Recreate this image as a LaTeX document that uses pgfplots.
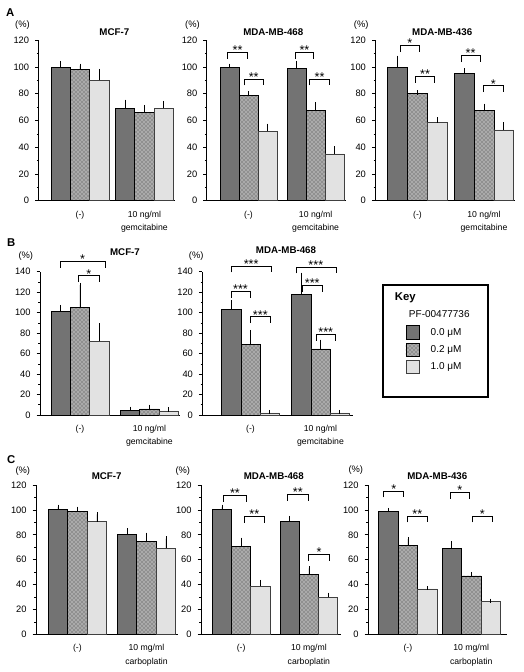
\documentclass[border=0pt]{standalone}
\usepackage{fontspec}
\setmainfont{Liberation Sans}
\usepackage{pgfplots}
\pgfplotsset{compat=1.18}
\usetikzlibrary{patterns}
\definecolor{cA}{RGB}{115,115,115}
\definecolor{cB}{RGB}{170,170,170}
\definecolor{cBp}{RGB}{60,60,60}
\definecolor{cC}{RGB}{226,226,226}

\pgfplotsset{
  panel/.style={
    scale only axis, anchor=south west,
    axis x line*=bottom, axis y line*=left,
    axis line style={-, line width=0.6pt, black},
    ymin=0, ytick distance=20,
    tick align=outside, major tick length=2.5pt, minor tick length=1.3pt,
    minor y tick num=1,
    xtick style={draw=none},
    ytick style={line width=0.5pt, black},
    minor y tick style={line width=0.4pt, black},
    yticklabel style={font=\fontsize{7}{8}\selectfont, xshift=-1pt},
    xticklabel style={font=\fontsize{6.5}{10}\selectfont, align=center, anchor=north, yshift=-1.5pt},
    /pgf/number format/assume math mode=true,
    clip=false, enlargelimits=false,
  },
  bb/.style={ybar, bar width=1, bar shift=0pt, line width=0.5pt,
    error bars/y dir=plus, error bars/y explicit,
    error bars/error bar style={line width=0.5pt, black},
    error bars/error mark options={black, mark size=1.6pt, line width=0.5pt},
    legend image code/.code={\draw[##1, line width=0.5pt] (0pt,-4.9pt) rectangle (9.8pt,4.9pt);}},
  s0/.style={bb, fill=cA, draw=black},
  s2/.style={bb, fill=cB, draw=black, postaction={pattern=crosshatch dots, pattern color=cBp}},
  s1/.style={bb, fill=cC, draw=black!75},
}
\newcommand{\brk}[4]{%
  \draw[line width=0.5pt] ([yshift=-4.8pt]axis cs:#1,#3) -- (axis cs:#1,#3) -- node[pos=0.5, anchor=base, inner sep=0pt, yshift=-1.7pt, font=\fontsize{9.5}{9.5}\selectfont] {#4} (axis cs:#2,#3) -- ([yshift=-4.8pt]axis cs:#2,#3);}

\begin{document}
\begin{tikzpicture}
\path[use as bounding box] (0,0) rectangle (393pt,504pt);

% ---------------- Panel A ----------------
\begin{axis}[panel, at={(28.875pt,353.475pt)}, width=102.75pt, height=120.3pt,
  xmin=0, xmax=7.1, ymax=120, xtick={2.15,5.49},
  xticklabels={(-),{10 ng/ml\\gemcitabine}}]
\addplot[s0] coordinates {(1.15,100) +- (0,3) (4.49,69) +- (0,5)};
\addplot[s2] coordinates {(2.15,98) +- (0,3) (5.49,66) +- (0,4)};
\addplot[s1] coordinates {(3.15,90) +- (0,7) (6.49,69) +- (0,4)};
\end{axis}

\begin{axis}[panel, at={(155.025pt,353.475pt)}, width=104.625pt, height=120.3pt,
  xmin=-0.05, xmax=7.29, ymax=120, xtick={2.15,5.68},
  xticklabels={(-),{10 ng/ml\\gemcitabine}}]
\addplot[s0] coordinates {(1.15,99.5) +- (0,1.5) (4.68,99) +- (0,4)};
\addplot[s2] coordinates {(2.15,78.7) +- (0,1.5) (5.68,67.5) +- (0,4.5)};
\addplot[s1] coordinates {(3.15,52) +- (0,4) (6.68,35) +- (0,4)};
\brk{1.06}{2.09}{111}{**}
\brk{1.91}{2.94}{91}{**}
\brk{4.61}{5.58}{111}{**}
\brk{5.37}{6.40}{91}{**}
\end{axis}

\begin{axis}[panel, at={(281.475pt,353.475pt)}, width=104.55pt, height=120.3pt,
  xmin=0.02, xmax=7.06, ymax=120, xtick={2.15,5.51},
  xticklabels={(-),{10 ng/ml\\gemcitabine}}]
\addplot[s0] coordinates {(1.15,100) +- (0,7) (4.51,95) +- (0,2.5)};
\addplot[s2] coordinates {(2.15,80) +- (0,1) (5.51,67.5) +- (0,3.5)};
\addplot[s1] coordinates {(3.15,58.5) +- (0,2.5) (6.51,53) +- (0,4)};
\brk{1.28}{2.26}{116}{*}
\brk{2.04}{3.02}{93}{**}
\brk{4.35}{5.32}{108.5}{**}
\brk{5.49}{6.47}{86}{*}
\end{axis}

% ---------------- Panel B ----------------
\begin{axis}[panel, at={(30pt,192.75pt)}, width=105.225pt, height=107.475pt,
  xmin=0.08, xmax=7.35, ymax=140, xtick={2.15,5.75},
  xticklabels={(-),{10 ng/ml\\gemcitabine}}]
\addplot[s0] coordinates {(1.15,101) +- (0,4.5) (4.75,4.5) +- (0,1.5)};
\addplot[s2] coordinates {(2.15,105) +- (0,22) (5.75,6) +- (0,2)};
\addplot[s1] coordinates {(3.15,72) +- (0,15.5) (6.75,4) +- (0,1.5)};
\brk{1.12}{3.45}{150}{*}
\brk{2.06}{3.15}{136}{*}
\end{axis}

\begin{axis}[panel, at={(151.725pt,192.75pt)}, width=113.25pt, height=107.475pt,
  xmin=-0.35, xmax=7.48, ymax=140, xtick={2.15,5.78},
  xticklabels={(-),{10 ng/ml\\gemcitabine}},
  legend style={at={(1.19,0.914)}, anchor=north west, draw=black, line width=1.5pt,
    inner xsep=17pt, inner ysep=4pt, row sep=2pt, column sep=6.5pt,
    font=\fontsize{7.5}{9}\selectfont,
    nodes={text height=5.5pt, text depth=1.5pt, inner sep=2pt}},
  legend cell align=left]
\addlegendimage{empty legend}
\addlegendentry{\hspace*{-35.2pt}\textbf{\fontsize{8.5}{9}\selectfont Key}}
\addlegendimage{empty legend}
\addlegendentry{\hspace*{-16.3pt}PF-00477736\hspace*{-5pt}}
\addplot[s0] coordinates {(1.15,103) +- (0,7) (4.78,118) +- (0,19)};
\addlegendentry{0.0 μM}
\addplot[s2] coordinates {(2.15,69) +- (0,12) (5.78,64.5) +- (0,7)};
\addlegendentry{0.2 μM}
\addplot[s1] coordinates {(3.15,2) +- (0,1) (6.78,2) +- (0,1)};
\addlegendentry{1.0 μM}
\addlegendimage{empty legend}
\addlegendentry{\phantom{X}}
\brk{1.14}{3.23}{145.5}{***}
\brk{1.14}{2.12}{121}{***}
\brk{2.16}{3.16}{96}{***}
\brk{4.50}{6.58}{144.5}{***}
\brk{4.85}{5.85}{126.5}{***}
\brk{5.56}{6.54}{79}{***}
\end{axis}

% ---------------- Panel C ----------------
\begin{axis}[panel, at={(27pt,28.2pt)}, width=106.2pt, height=112.05pt,
  xmin=0.02, xmax=7.3, ymax=120, xtick={2.15,5.7},
  xticklabels={(-),{10 mg/ml\\carboplatin}}]
\addplot[s0] coordinates {(1.15,100.5) +- (0,2) (4.7,80.5) +- (0,3)};
\addplot[s2] coordinates {(2.15,98.5) +- (0,2.5) (5.7,75) +- (0,5)};
\addplot[s1] coordinates {(3.15,90.5) +- (0,6) (6.7,69) +- (0,8)};
\end{axis}

\begin{axis}[panel, at={(150.75pt,28.2pt)}, width=105.375pt, height=112.05pt,
  xmin=0.06, xmax=7.38, ymax=120, xtick={2.15,5.68},
  xticklabels={(-),{10 mg/ml\\carboplatin}}]
\addplot[s0] coordinates {(1.15,100.5) +- (0,2) (4.68,90.5) +- (0,3)};
\addplot[s2] coordinates {(2.15,71) +- (0,5) (5.68,48) +- (0,5)};
\addplot[s1] coordinates {(3.15,38.5) +- (0,3.5) (6.68,29.8) +- (0,2)};
\brk{1.22}{2.44}{111.7}{**}
\brk{2.30}{3.38}{95}{**}
\brk{4.58}{5.63}{112.5}{**}
\brk{5.67}{6.76}{64}{*}
\end{axis}

\begin{axis}[panel, at={(276pt,28.2pt)}, width=104.25pt, height=112.05pt,
  xmin=0.1, xmax=7.25, ymax=120, xtick={2.15,5.41},
  xticklabels={(-),{10 mg/ml\\carboplatin}}]
\addplot[s0] coordinates {(1.15,99) +- (0,1) (4.41,69) +- (0,4)};
\addplot[s2] coordinates {(2.15,71.5) +- (0,5) (5.41,47) +- (0,1.5)};
\addplot[s1] coordinates {(3.15,36.5) +- (0,0.5) (6.41,26.5) +- (0,0.5)};
\brk{0.91}{1.94}{115.2}{*}
\brk{2.14}{3.13}{95.2}{**}
\brk{4.33}{5.33}{113.9}{*}
\brk{5.48}{6.48}{95.2}{*}
\end{axis}

% ---------------- labels ----------------
\begin{scope}[x=0.75pt, y=-0.75pt, shift={(0pt,504pt)}]
\begin{scope}[font=\bfseries\fontsize{8.5}{9}\selectfont]
\node at (10.3,13) {A};
\node at (11.2,242.2) {B};
\node at (11.2,459.2) {C};
\end{scope}
\begin{scope}[font=\bfseries\fontsize{7.3}{8}\selectfont]
\node at (114.3,32.3) {MCF-7};
\node at (273.3,32.3) {MDA-MB-468};
\node at (442.2,32.3) {MDA-MB-436};
\node at (125,252) {MCF-7};
\node at (286,249.7) {MDA-MB-468};
\node at (106.7,476.3) {MCF-7};
\node at (273.8,476.3) {MDA-MB-468};
\node at (437.3,475.7) {MDA-MB-436};
\end{scope}
\begin{scope}[font=\fontsize{7}{8}\selectfont]
\node at (22.5,24.7) {(\%)};
\node at (192.5,24.7) {(\%)};
\node at (361.2,24.7) {(\%)};
\node at (25.8,256) {(\%)};
\node at (196.2,256) {(\%)};
\node at (22.8,471.2) {(\%)};
\node at (182.8,471.2) {(\%)};
\node at (355.8,470.5) {(\%)};
\end{scope}
\end{scope}
\end{tikzpicture}
\end{document}
